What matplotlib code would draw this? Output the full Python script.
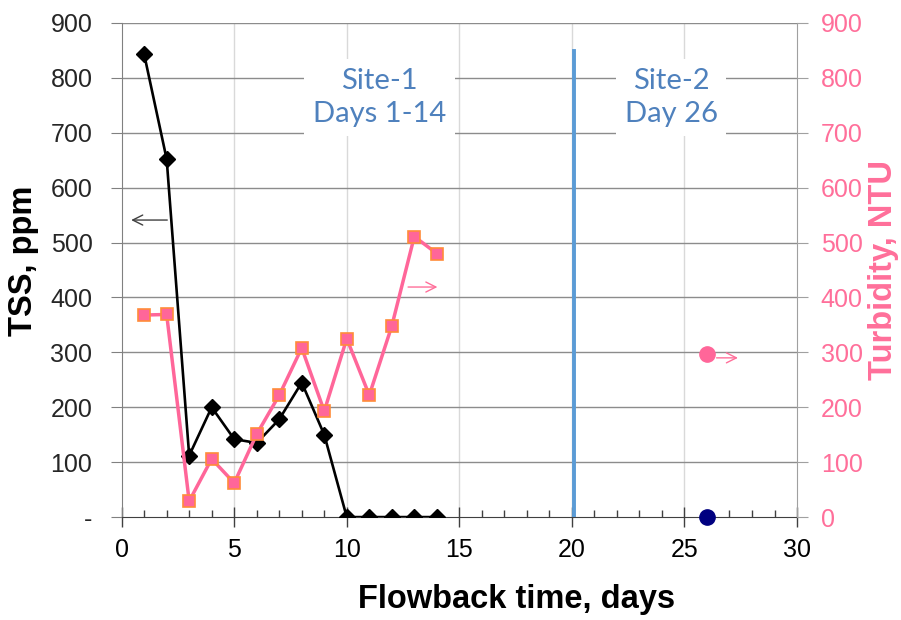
import numpy as np
import matplotlib
matplotlib.use("Agg")
import matplotlib.pyplot as plt
from matplotlib.ticker import MultipleLocator, FuncFormatter

plt.rcParams['font.family'] = ['Liberation Sans', 'DejaVu Sans']

# Site-1 data, days 1-14
days = [1, 2, 3, 4, 5, 6, 7, 8, 9, 10, 11, 12, 13, 14]
tss = [843, 652, 112, 200, 142, 135, 178, 245, 150, 0, 0, 0, 0, 0]
turbidity = [368, 369, 29, 106, 62, 151, 222, 308, 193, 325, 222, 348, 511, 480]

# Site-2, day 26
site2_day = [26]
site2_tss = [0]
site2_turb = [297]

site_split_day = 20.1
site_split_top = 848

pink = '#ff6f9a'
blue_txt = '#4f81bd'

fig = plt.figure(figsize=(9.01, 6.20), dpi=100)
ax = fig.add_axes([0.135, 0.166, 0.7496, 0.797])
ax2 = ax.twinx()

# grid
for v in range(100, 1000, 100):
    ax.axhline(v, color='#8c8c8c', lw=1.0, zorder=1)
for v in range(5, 30, 5):
    ax.axvline(v, color='#d9d9d9', lw=1.0, zorder=0.5)

# site separator
ax.plot([site_split_day, site_split_day], [0, site_split_top], color='#5b9bd5', lw=2.8, zorder=3)

ax.plot(days, tss, color='black', lw=1.9, marker='D', ms=8, zorder=4)
ax.plot(site2_day, site2_tss, 'o', color='#000080', ms=11, zorder=4, clip_on=False)

ax2.plot(days, turbidity, color='#ff6699', lw=2.5, marker='s', ms=8,
         mfc='#ff6699', mec='#ff8c3a', mew=1.2, zorder=4)
ax2.plot(site2_day, site2_turb, 'o', color='#ff6699', ms=11, zorder=4)

# arrows pointing to the axis each series uses
ax.annotate('', xy=(0.3, 541), xytext=(2.15, 541),
            arrowprops=dict(arrowstyle='->', color='#404040', lw=1.0, mutation_scale=18))
ax2.annotate('', xy=(14.15, 419), xytext=(12.6, 419),
             arrowprops=dict(arrowstyle='->', color=pink, lw=1.0, mutation_scale=18))
ax2.annotate('', xy=(27.5, 290), xytext=(26.3, 290),
             arrowprops=dict(arrowstyle='->', color=pink, lw=1.0, mutation_scale=18))

# site labels
ax.text(11.44, 764, 'Site-1\nDays 1-14', ha='center', va='center', fontsize=21,
        family=['Lato', 'DejaVu Sans'], color=blue_txt, linespacing=1.35, zorder=5,
        bbox=dict(boxstyle='square,pad=0.3', fc='white', ec='none'))
ax.text(24.41, 764, 'Site-2\nDay 26', ha='center', va='center', fontsize=21,
        family=['Lato', 'DejaVu Sans'], color=blue_txt, linespacing=1.35, zorder=5,
        bbox=dict(boxstyle='square,pad=0.3', fc='white', ec='none'))

# axes
for a in (ax, ax2):
    a.set_xlim(0, 30)
    a.set_ylim(0, 900)
    a.yaxis.set_major_locator(MultipleLocator(100))
    for s in a.spines.values():
        s.set_visible(False)

ax.spines['left'].set_visible(True)
ax.spines['left'].set_color('#808080')
ax.spines['bottom'].set_visible(True)
ax.spines['bottom'].set_color('#404040')
ax2.spines['right'].set_visible(True)
ax2.spines['right'].set_color('#a0a0a0')

ax.xaxis.set_major_locator(MultipleLocator(5))
ax.xaxis.set_minor_locator(MultipleLocator(1))
ax.tick_params(axis='x', which='major', direction='inout', length=14, width=1,
               color='#404040', labelsize=18, pad=8)
ax.tick_params(axis='x', which='minor', direction='in', length=5, width=1, color='#404040')
ax.tick_params(axis='y', direction='out', length=8, color='#808080',
               labelsize=18, labelcolor='#262626', pad=13)
ax.yaxis.set_major_formatter(FuncFormatter(lambda v, p: '-' if v == 0 else f'{v:.0f}'))

ax2.tick_params(axis='y', direction='out', length=8, color='#a0a0a0',
                labelsize=18, labelcolor=pink, pad=9)

ax.set_xlabel('Flowback time, days', fontsize=23.5, fontweight='bold', labelpad=16)
ax.xaxis.set_label_coords(0.585, -0.135)
ax.set_ylabel('TSS, ppm', fontsize=23.5, fontweight='bold', labelpad=6)
ax.yaxis.set_label_coords(-0.122, 0.518)
ax2.set_ylabel('Turbidity, NTU', fontsize=23.5, fontweight='bold', color=pink, labelpad=4)

fig.savefig('out.png', dpi=100)
